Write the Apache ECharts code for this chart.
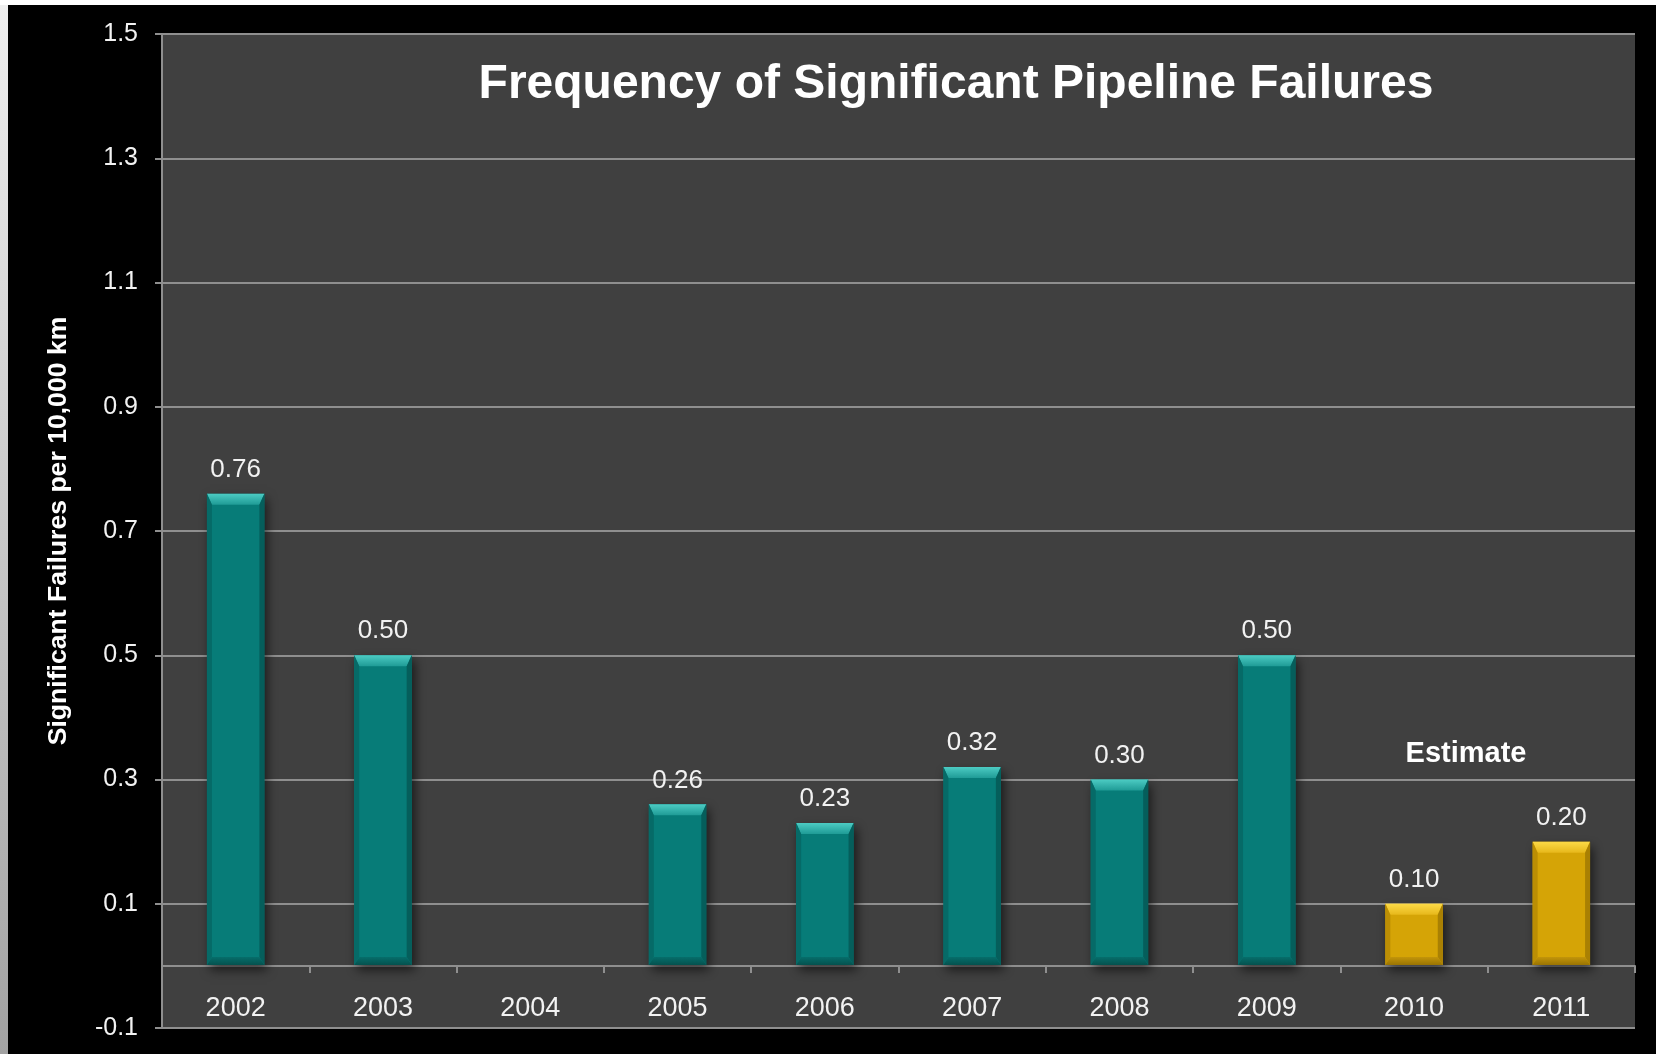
<!DOCTYPE html>
<html>
<head>
<meta charset="utf-8">
<title>Frequency of Significant Pipeline Failures</title>
<script src="https://cdn.jsdelivr.net/npm/echarts@6/dist/echarts.min.js"></script>
<style>
  html, body { margin: 0; padding: 0; width: 1656px; height: 1054px; background: #ffffff; overflow: hidden; }
  #edge { position: absolute; left: 0; top: 5px; width: 8px; height: 1049px; background: linear-gradient(#efefef, #a2a2a2); }
  #chart { position: absolute; left: 8px; top: 5px; width: 1648px; height: 1049px; background: #000000; }
</style>
</head>
<body>
<div id="edge"></div>
<div id="chart"></div>
<script>
// Significant failures per 10,000 km of pipeline, by year
const years = ['2002', '2003', '2004', '2005', '2006', '2007', '2008', '2009', '2010', '2011'];
const failureRates = [0.76, 0.50, null, 0.26, 0.23, 0.32, 0.30, 0.50, 0.10, 0.20];
const estimateYears = ['2010', '2011'];
const yTicks = [-0.1, 0.1, 0.3, 0.5, 0.7, 0.9, 1.1, 1.3, 1.5];

const FONT = '"Liberation Sans", Arial, Helvetica, sans-serif';
const GRID_COLOR = '#8f8f8f';

// Bevelled bar colours
const TEAL = { face: '#077c78', topHi: '#4ccbc3', topLo: '#1f9b96', side: '#066a67', sideR: '#055e5b', bottomHi: '#066e6b', bottomLo: '#04524f' };
const GOLD = { face: '#d5a406', topHi: '#fcda47', topLo: '#e7b81b', side: '#bb8e04', sideR: '#a98003', bottomHi: '#c3950a', bottomLo: '#9a7402' };

function renderBevelBar(params, api) {
  const val = api.value(1);
  if (val == null || isNaN(val)) return null;
  const idx = api.value(0);
  const top = api.coord([idx, val]);
  const base = api.coord([idx, 0]);
  const w = api.size([1, 0])[0] * 0.39;
  const cx = top[0];
  const x0 = cx - w / 2, x1 = cx + w / 2;
  const y0 = top[1], y1 = base[1] - 1;
  const c = estimateYears.indexOf(years[idx]) >= 0 ? GOLD : TEAL;
  const tb = 11, sb = 5, bb = 8;

  return {
    type: 'group',
    children: [
      { // drop shadow
        type: 'rect',
        shape: { x: x0, y: y0, width: w, height: y1 - y0 },
        style: { fill: c.face, shadowBlur: 10, shadowOffsetX: 3, shadowOffsetY: 5, shadowColor: 'rgba(0,0,0,0.6)' }
      },
      { // front face
        type: 'rect',
        shape: { x: x0 + sb, y: y0 + tb, width: w - 2 * sb, height: y1 - y0 - tb - bb },
        style: { fill: c.face }
      },
      { // top bevel
        type: 'polygon',
        shape: { points: [[x0, y0], [x1, y0], [x1 - sb, y0 + tb], [x0 + sb, y0 + tb]] },
        style: { fill: new echarts.graphic.LinearGradient(0, 0, 0, 1, [
          { offset: 0, color: c.topHi }, { offset: 1, color: c.topLo }
        ]) }
      },
      { // left bevel
        type: 'polygon',
        shape: { points: [[x0, y0], [x0 + sb, y0 + tb], [x0 + sb, y1 - bb], [x0, y1]] },
        style: { fill: c.side }
      },
      { // right bevel
        type: 'polygon',
        shape: { points: [[x1, y0], [x1, y1], [x1 - sb, y1 - bb], [x1 - sb, y0 + tb]] },
        style: { fill: c.sideR }
      },
      { // bottom bevel
        type: 'polygon',
        shape: { points: [[x0, y1], [x0 + sb, y1 - bb], [x1 - sb, y1 - bb], [x1, y1]] },
        style: { fill: new echarts.graphic.LinearGradient(0, 0, 0, 1, [
          { offset: 0, color: c.bottomHi }, { offset: 1, color: c.bottomLo }
        ]) }
      },
      { // value label
        type: 'text',
        x: cx,
        y: y0 - 24,
        style: {
          text: val.toFixed(2),
          fill: '#f2f2f2',
          font: '26px ' + FONT,
          align: 'center',
          verticalAlign: 'middle'
        }
      }
    ]
  };
}

const chart = echarts.init(document.getElementById('chart'), null, { renderer: 'canvas' });

chart.setOption({
  backgroundColor: '#000000',
  animation: false,
  grid: {
    left: 154, right: 21, top: 29, bottom: 26,
    show: true, backgroundColor: '#404040', borderWidth: 0,
    containLabel: false, outerBoundsMode: 'none'
  },
  xAxis: [
    { // zero line with category separators
      type: 'category',
      data: years,
      boundaryGap: true,
      axisLine: { show: true, onZero: true, lineStyle: { color: GRID_COLOR, width: 2 } },
      axisTick: { show: true, inside: false, length: 7, lineStyle: { color: GRID_COLOR, width: 2 } },
      axisLabel: { show: false },
      splitLine: { show: false }
    },
    { // year labels along the bottom of the plot
      type: 'category',
      data: years,
      position: 'bottom',
      boundaryGap: true,
      axisLine: { show: false, onZero: false },
      axisTick: { show: false },
      axisLabel: {
        show: true, inside: true, interval: 0, hideOverlap: false,
        color: '#f2f2f2', fontSize: 27, fontFamily: FONT, margin: 6
      },
      splitLine: { show: false }
    }
  ],
  yAxis: {
    type: 'value',
    min: -0.1,
    max: 1.5,
    name: 'Significant Failures per 10,000 km',
    nameLocation: 'middle',
    nameRotate: 90,
    nameGap: 90,
    nameMoveOverlap: false,
    nameTextStyle: { color: '#ffffff', fontSize: 26.6, fontWeight: 'bold', fontFamily: FONT },
    axisLine: { show: true, lineStyle: { color: GRID_COLOR, width: 2 } },
    axisTick: { show: true, inside: false, length: 7, customValues: yTicks, lineStyle: { color: GRID_COLOR, width: 2 } },
    axisLabel: {
      customValues: yTicks,
      color: '#f2f2f2', fontSize: 25, fontFamily: FONT, margin: 24,
      formatter: v => v.toFixed(1)
    },
    splitLine: { show: true, showMinLine: true, showMaxLine: true, lineStyle: { color: GRID_COLOR, width: 2 } }
  },
  graphic: [
    {
      type: 'text',
      x: 948, y: 80,
      style: {
        text: 'Frequency of Significant Pipeline Failures',
        fill: '#ffffff',
        font: 'bold 48px ' + FONT,
        align: 'center', verticalAlign: 'middle'
      }
    },
    {
      type: 'text',
      x: 1458, y: 749,
      style: {
        text: 'Estimate',
        fill: '#ffffff',
        font: 'bold 29px ' + FONT,
        align: 'center', verticalAlign: 'middle'
      }
    }
  ],
  series: [{
    type: 'custom',
    renderItem: renderBevelBar,
    xAxisIndex: 0,
    encode: { x: 0, y: 1 },
    data: years.map((y, i) => [y, failureRates[i]]),
    clip: false,
    z: 3
  }]
});
</script>
</body>
</html>
